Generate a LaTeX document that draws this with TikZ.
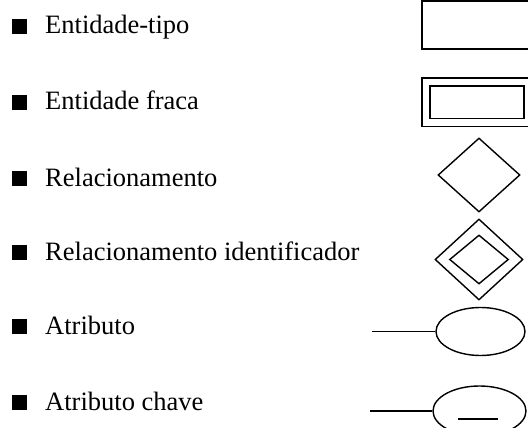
\documentclass[tikz,border=0pt]{standalone}
\usepackage{fontspec}
\setmainfont{Liberation Serif}
\usetikzlibrary{shapes.geometric}

\tikzset{
  bullet/.style={fill=black, minimum size=15pt, inner sep=0pt, anchor=south west},
  legtext/.style={anchor=base west, inner sep=0pt, font=\fontsize{26.5}{30}\selectfont},
  entbox/.style={draw, line width=1.6pt, minimum width=110pt, minimum height=48pt, inner sep=0pt},
  relshape/.style={draw, diamond, line width=1.4pt, inner sep=0pt, minimum width=82pt, minimum height=74pt},
  attshape/.style={draw, ellipse, line width=1.4pt, inner sep=0pt, minimum width=89pt, minimum height=48pt},
  link/.style={line width=1.5pt}
}

\begin{document}
\begin{tikzpicture}[x=1pt, y=-1pt]
\useasboundingbox (0,0) rectangle (528,428);

% Entidade-tipo
\node[bullet] (b1) at (12,34) {};
\node[legtext] (t1) at (45,34) {Entidade-tipo};
\node[entbox] (ent) at (477,25) {};

% Entidade fraca
\node[bullet] (b2) at (12,110) {};
\node[legtext] (t2) at (45,110) {Entidade fraca};
\node[entbox, double, double distance=6.5pt, minimum width=102pt, minimum height=40.5pt] (weak) at (477,102.3) {};

% Relacionamento
\node[bullet] (b3) at (12,186) {};
\node[legtext] (t3) at (45,186) {Relacionamento};
\node[relshape] (rel) at (479,175) {};

% Relacionamento identificador
\node[bullet] (b4) at (12,260) {};
\node[legtext] (t4) at (45,260) {Relacionamento identificador};
\node[relshape, minimum width=88pt, minimum height=81pt] (idrel) at (479,259.5) {};
\node[relshape, minimum width=59pt, minimum height=49pt] (idrelin) at (idrel.center) {};

% Atributo
\node[bullet] (b5) at (12,334) {};
\node[legtext] (t5) at (45,334) {Atributo};
\node[attshape] (att) at (480.5,331.5) {};
\coordinate (attend) at (372,331.5);
\draw[link] (attend) -- (att.west);

% Atributo chave
\node[bullet] (b6) at (12,410) {};
\node[legtext] (t6) at (45,410) {Atributo chave};
\node[attshape, minimum width=93pt, minimum height=50pt] (keyatt) at (479.5,411) {};
\coordinate (keyend) at (370,411);
\draw[link] (keyend) -- (keyatt.west);
\draw[link] ([xshift=-21.5pt, yshift=-8pt]keyatt.center) -- ++(40,0);
\end{tikzpicture}
\end{document}
